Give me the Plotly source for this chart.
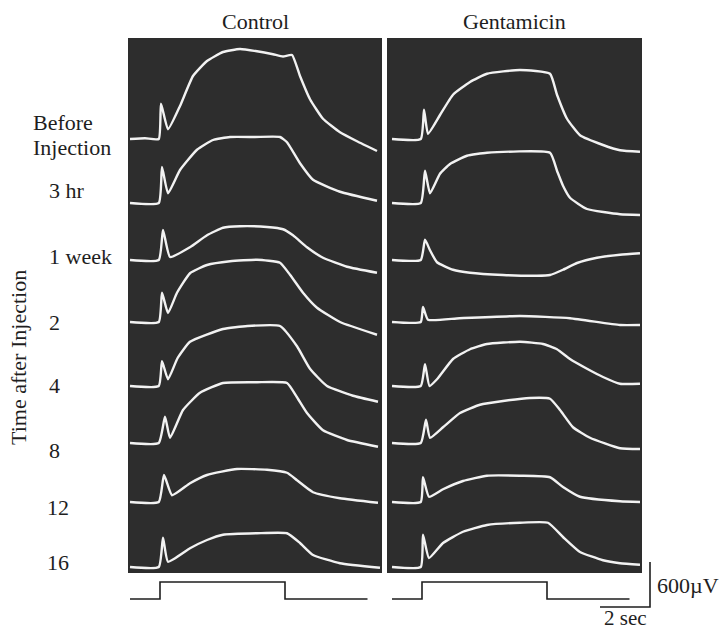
import plotly.graph_objects as go

# ---------------- data ----------------
conditions = ["Control", "Gentamicin"]
row_labels = ["Before", "Injection", "3 hr", "1 week", "2", "4", "8", "12", "16"]
side_title = "Time after Injection"

# time (s, relative to stimulus onset) and response (µV, relative to pre-stimulus baseline)
ctrl_t = [
    [-1.2, -0.6, -0.05, 0.04, 0.32, 0.8, 1.32, 1.88, 2.52, 3.2, 3.88, 4.52, 4.92, 5.28, 5.6, 6.0, 6.52, 7.2, 7.88, 8.68],
    [-1.2, -0.05, 0.08, 0.32, 0.8, 1.48, 2.12, 2.8, 3.8, 4.8, 5.08, 5.6, 6.12, 7.2, 8.68],
    [-1.2, -0.05, 0.12, 0.4, 1.2, 1.88, 2.52, 3.2, 4.28, 4.92, 5.32, 5.88, 6.52, 7.48, 8.68],
    [-1.2, -0.05, 0.08, 0.32, 0.68, 1.2, 1.88, 2.8, 3.88, 4.8, 5.2, 5.72, 6.28, 7.2, 8.68],
    [-1.2, -0.05, 0.08, 0.32, 0.7, 1.2, 2.52, 3.5, 4.8, 5.48, 6.0, 6.68, 7.72, 8.72],
    [-1.2, -0.05, 0.2, 0.4, 0.92, 1.6, 2.52, 3.88, 5.08, 5.48, 5.88, 6.52, 7.48, 8.72],
    [-1.2, -0.05, 0.16, 0.48, 1.2, 1.88, 3.08, 4.28, 5.08, 5.48, 6.12, 7.2, 8.72],
    [-1.2, -0.05, 0.12, 0.32, 1.2, 1.88, 2.52, 3.88, 5.08, 5.6, 6.12, 7.2, 8.8],
]
ctrl_uv = [
    [0, 10, 0, 470, 130, 440, 840, 1040, 1160, 1200, 1170, 1130, 1100, 1120, 840, 530, 270, 90, -30, -160],
    [0, 0, 480, 130, 440, 710, 840, 880, 880, 880, 810, 530, 310, 150, 30],
    [0, 0, 400, 40, 170, 330, 430, 450, 440, 410, 330, 170, 30, -90, -170],
    [0, 0, 390, 120, 390, 650, 760, 810, 830, 790, 630, 390, 190, 0, -170],
    [0, 0, 330, 90, 370, 590, 760, 800, 800, 530, 230, 0, -130, -210],
    [0, 0, 350, 70, 440, 670, 800, 810, 800, 610, 400, 170, 40, -50],
    [0, 0, 360, 90, 250, 360, 440, 430, 390, 290, 130, 50, -10],
    [0, 0, 390, 70, 250, 360, 430, 450, 450, 320, 160, 50, -10],
]
gent_t = [
    [-1.2, -0.05, 0.08, 0.24, 0.72, 1.24, 1.92, 2.6, 3.92, 5.12, 5.4, 5.8, 6.32, 7.24, 7.92, 8.72],
    [-1.2, -0.05, 0.12, 0.32, 0.72, 1.12, 1.8, 2.6, 5.12, 5.4, 5.64, 5.92, 6.6, 7.92, 8.72],
    [-1.2, -0.05, 0.12, 0.32, 0.6, 1.24, 1.92, 3.24, 4.6, 5.12, 5.64, 6.2, 7.0, 7.92, 8.72],
    [-1.2, -0.05, 0.04, 0.24, 1.5, 3.92, 5.92, 7.92, 8.72],
    [-1.2, -0.05, 0.12, 0.3, 0.6, 1.24, 1.92, 2.6, 3.92, 4.84, 5.4, 5.92, 6.6, 7.24, 7.92, 8.72],
    [-1.2, -0.05, 0.16, 0.32, 0.84, 1.52, 2.32, 3.24, 4.32, 5.12, 5.52, 6.04, 6.72, 7.92, 8.72],
    [-1.2, -0.05, 0.04, 0.28, 0.84, 1.64, 2.6, 3.92, 5.12, 5.64, 6.32, 7.92, 8.72],
    [-1.2, -0.05, 0.04, 0.28, 0.84, 1.64, 2.6, 3.92, 5.04, 5.64, 6.32, 7.24, 7.92, 8.72],
]
gent_uv = [
    [0, 0, 390, 70, 320, 590, 760, 870, 920, 870, 590, 270, 50, -80, -150, -170],
    [0, 0, 430, 130, 390, 520, 630, 670, 670, 430, 230, 70, -80, -150, -160],
    [0, 0, 270, 130, -30, -130, -170, -200, -210, -200, -130, -40, 30, 70, 90],
    [0, 0, 200, 30, 50, 80, 50, -40, -40],
    [0, 0, 290, 0, 90, 360, 490, 560, 590, 560, 490, 360, 230, 120, 30, 30],
    [0, 0, 310, 70, 210, 400, 510, 560, 600, 590, 440, 210, 70, -70, -80],
    [0, 0, 330, 70, 170, 280, 350, 350, 330, 200, 70, 10, 0],
    [0, 0, 430, 120, 320, 470, 560, 590, 590, 400, 200, 90, 50, 30],
]
# stimulus (on/off) trace
stim_t = [-1.2, 0, 0, 5, 5, 8.3]
stim_level = [0, 0, 1, 1, 0, 0]
scale_uv = 600
scale_sec = 2

# ---------------- layout constants (pixels) ----------------
W, H = 721, 632
UV_PER_PX = 600 / 45.0
PX_PER_S = 25.0
ROW_BASE_PX = [139, 203, 260, 322, 386, 443, 502, 567]
PANEL_TOP, PANEL_BOT = 38, 573
LEFT_X0, LEFT_X1 = 128, 382
RIGHT_X0, RIGHT_X1 = 387, 642
LEFT_ONSET, RIGHT_ONSET = 160, 422
STIM_BASE_PX, STIM_HEIGHT_PX = 599, 17
DARK = "#2d2d2d"
TRACE = "#f2f2f2"
INK = "#1e1e1e"
FONT = "Liberation Serif"


def yv(px):
    return (H - px) * UV_PER_PX


fig = go.Figure()
axes = [("x", LEFT_X0, LEFT_X1, LEFT_ONSET, ctrl_t, ctrl_uv),
        ("x2", RIGHT_X0, RIGHT_X1, RIGHT_ONSET, gent_t, gent_uv)]
for xa, x0, x1, onset, ts, uvs in axes:
    for i, (t, uv) in enumerate(zip(ts, uvs)):
        base = yv(ROW_BASE_PX[i])
        fig.add_trace(go.Scatter(
            x=t, y=[base + v for v in uv], xaxis=xa, yaxis="y", mode="lines",
            line=dict(color=TRACE, width=2.4, shape="spline", smoothing=0.45),
            hoverinfo="skip", showlegend=False))
    fig.add_trace(go.Scatter(
        x=stim_t, y=[yv(STIM_BASE_PX) + s * STIM_HEIGHT_PX * UV_PER_PX for s in stim_level],
        xaxis=xa, yaxis="y", mode="lines", line=dict(color=INK, width=1.6),
        hoverinfo="skip", showlegend=False))

# scale bars (right axis, time units / µV units)
sb_x = (650 - RIGHT_ONSET) / PX_PER_S
sb_y = yv(607)
fig.add_trace(go.Scatter(
    x=[sb_x - scale_sec, sb_x, sb_x], y=[sb_y, sb_y, sb_y + scale_uv],
    xaxis="x2", yaxis="y", mode="lines", line=dict(color=INK, width=1.6),
    hoverinfo="skip", showlegend=False))

left_range = [(LEFT_X0 - LEFT_ONSET) / PX_PER_S, (LEFT_X1 - LEFT_ONSET) / PX_PER_S]
right_range = [(RIGHT_X0 - RIGHT_ONSET) / PX_PER_S, (W - RIGHT_ONSET) / PX_PER_S]
hidden = dict(showgrid=False, zeroline=False, showticklabels=False, ticks="", showline=False)

shapes = [
    dict(type="rect", xref="paper", yref="paper", layer="below",
         x0=LEFT_X0 / W, x1=LEFT_X1 / W, y0=1 - PANEL_BOT / H, y1=1 - PANEL_TOP / H,
         fillcolor=DARK, line=dict(width=0)),
    dict(type="rect", xref="paper", yref="paper", layer="below",
         x0=RIGHT_X0 / W, x1=RIGHT_X1 / W, y0=1 - PANEL_BOT / H, y1=1 - PANEL_TOP / H,
         fillcolor=DARK, line=dict(width=0)),
]

def ann(text, xpx, ypx, xanchor="center", size=22, angle=0):
    return dict(text=text, x=xpx / W, y=1 - ypx / H, xref="paper", yref="paper",
                xanchor=xanchor, yanchor="middle", showarrow=False, textangle=angle,
                font=dict(family=FONT, size=size, color=INK))

annotations = [
    ann(conditions[0], (LEFT_X0 + LEFT_X1) / 2, 22),
    ann(conditions[1], (RIGHT_X0 + RIGHT_X1) / 2, 22),
    ann(row_labels[0], 31, 122, "left"),
    ann(row_labels[1], 31, 147, "left"),
    ann(side_title, 18, 358, angle=-90),
]
label_px = [(47, 190), (47, 257), (47, 323), (47, 385), (47, 450), (45, 508), (45, 562)]
for lab, (lx, ly) in zip(row_labels[2:], label_px):
    annotations.append(ann(lab, lx, ly, "left"))
annotations.append(ann("600\u00b5V", 655, 585, "left"))
annotations.append(ann(f"{scale_sec} sec", 625, 618, size=21))

fig.update_layout(
    width=W, height=H, margin=dict(l=0, r=0, t=0, b=0),
    paper_bgcolor="white", plot_bgcolor="rgba(0,0,0,0)",
    xaxis=dict(domain=[LEFT_X0 / W, LEFT_X1 / W], range=left_range, **hidden),
    xaxis2=dict(domain=[RIGHT_X0 / W, 1.0], range=right_range, anchor="y", **hidden),
    yaxis=dict(domain=[0, 1], range=[0, H * UV_PER_PX], **hidden),
    shapes=shapes, annotations=annotations, showlegend=False,
)
fig.write_html("out.html")
